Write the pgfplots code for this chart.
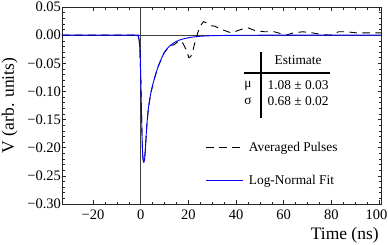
\documentclass[border=0pt]{standalone}
\usepackage{pgfplots}
\pgfplotsset{compat=1.18}
\usepackage{fontspec}
\setmainfont{Liberation Serif}
\begin{document}
\begin{tikzpicture}
\begin{axis}[
 scale only axis, width=319.5pt, height=197pt,
 xmin=-33, xmax=101, ymin=-0.30, ymax=0.05,
 xtick={-20,0,20,40,60,80,100},
 xticklabels={−20,0,20,40,60,80,\hspace*{-5pt}100},
 ytick={-0.30,-0.25,-0.20,-0.15,-0.10,-0.05,0,0.05},
 yticklabels={−0.30,−0.25,−0.20,−0.15,−0.10,−0.05,0.00,0.05},
 minor x tick num=3, minor y tick num=4,
 tick align=inside,
 major tick length=4pt, minor tick length=2.5pt,
 tick label style={font=\fontsize{14.5}{16}\selectfont},
 xticklabel style={yshift=-2.5pt},
 yticklabel style={xshift=2.5pt},
 axis line style={line width=0.7pt, black!85},
 every tick/.style={black!85, line width=0.5pt},
 xlabel={Time (ns)}, ylabel={V (arb. units)},
 label style={font=\fontsize{17.5}{20}\selectfont},
 xlabel style={at={(axis description cs:0.885,-0.157)}, anchor=center},
 ylabel style={at={(axis description cs:-0.164,0.5)}, anchor=center},
 legend style={at={(axis description cs:0.45,0.203)}, anchor=west, draw=none, fill=none, inner sep=0pt, row sep=19pt, font=\fontsize{13.4}{15}\selectfont, nodes={inner sep=2pt}, column sep=3pt},
 legend cell align=left,
 legend image code/.code={\draw[#1] (0pt,0pt) -- (37pt,0pt);},
]
\draw[black!75, line width=0.5pt] (axis cs:0,-0.30) -- (axis cs:0,0.05);
\draw[black!75, line width=0.5pt] (axis cs:-33,0) -- (axis cs:101,0);
\addplot[black, line width=0.9pt, dash pattern=on 7.5pt off 5.5pt] coordinates {
(-33,0) (-3,0) (-1.5,0) (-1.0,-0.002) (-0.6,-0.010) (-0.3,-0.030) (0,-0.070)
(0.3,-0.130) (0.6,-0.185) (0.9,-0.216) (1.2,-0.225) (1.5,-0.224) (1.9,-0.207)
(2.5,-0.165) (3.2,-0.131) (4.3,-0.102) (5.7,-0.078) (7.4,-0.055) (9.9,-0.031)
(12.2,-0.019) (14,-0.017) (15.5,-0.012) (16.8,-0.010) (17.8,-0.015) (19,-0.025)
(20.2,-0.040) (21,-0.038) (22,-0.026) (23,-0.008) (24,0.005) (25,0.016)
(26.3,0.024) (27.5,0.022) (29,0.017) (31,0.016) (34,0.010) (38,0.004)
(42,0.010) (45,0.013) (48,0.008) (52,0.006) (56,0.006) (61,0.0) (64,0.004)
(68,0.006) (72,0.004) (76,0.001) (79.5,0) (83,0.006) (86.5,0.006) (90.5,0.004)
(96,0.004) (101,0.004)
};
\addlegendentry{Averaged Pulses}
\addplot[blue, line width=0.9pt, smooth] coordinates {
(-33,0) (-3,0) (-1.5,0) (-1.0,-0.002) (-0.6,-0.010) (-0.3,-0.030) (0,-0.070)
(0.3,-0.130) (0.6,-0.185) (0.9,-0.216) (1.2,-0.225) (1.5,-0.224) (1.9,-0.207)
(2.5,-0.165) (3.2,-0.131) (4.3,-0.102) (5.7,-0.078) (7.4,-0.055) (9.9,-0.031)
(12.2,-0.019) (15,-0.011) (18,-0.0065) (21.6,-0.0035) (25,-0.002) (30,-0.001)
(40,-0.0003) (60,0) (101,0)
};
\addlegendentry{Log-Normal Fit}
\begin{scope}[font=\fontsize{13.4}{15}\selectfont]
\node at (axis description cs:0.739,0.731) {Estimate};
\node at (axis description cs:0.582,0.599) {μ};
\node at (axis description cs:0.739,0.604) {1.08 ± 0.03};
\node at (axis description cs:0.582,0.523) {σ};
\node at (axis description cs:0.739,0.523) {0.68 ± 0.02};
\end{scope}
\draw[line width=2.6pt] (axis description cs:0.623,0.772) -- (axis description cs:0.623,0.437);
\draw[line width=1.6pt] (axis description cs:0.569,0.665) -- (axis description cs:0.839,0.665);
\end{axis}
\pgfresetboundingbox
\path[use as bounding box] ([xshift=-62pt,yshift=-40pt]current axis.south west) rectangle ([xshift=6.5pt,yshift=7pt]current axis.north east);
\end{tikzpicture}
\end{document}
